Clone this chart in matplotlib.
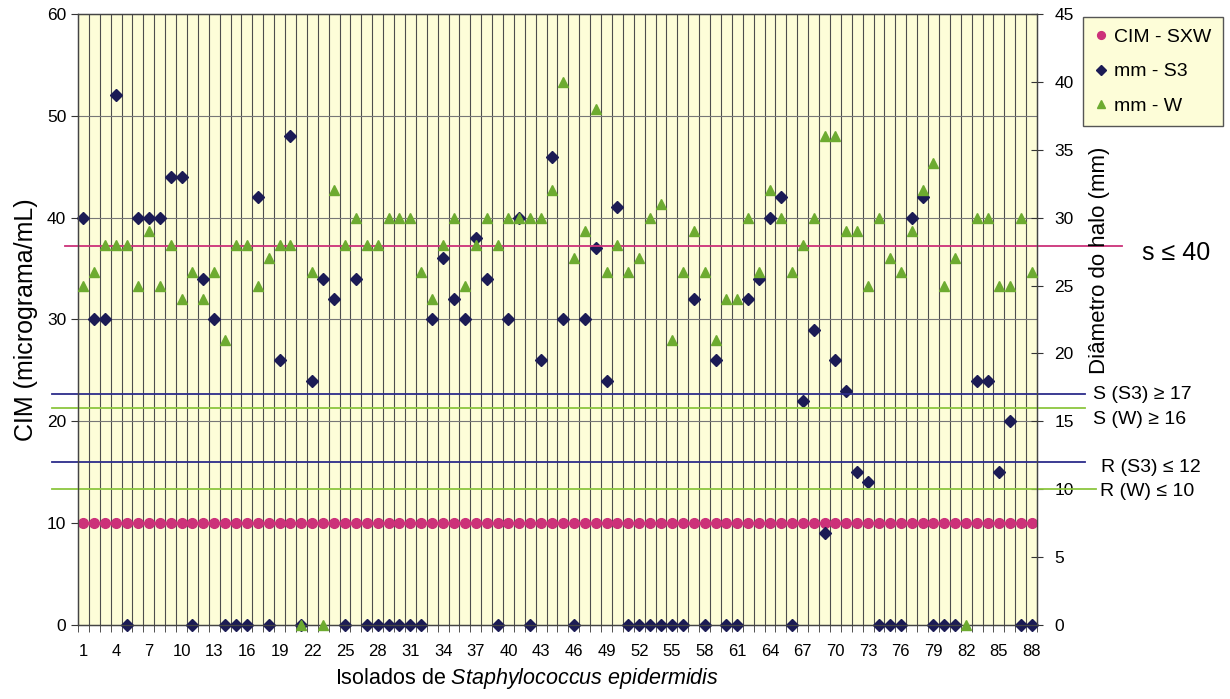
import numpy as np
import matplotlib
matplotlib.use("Agg")
import matplotlib.pyplot as plt

plt.rcParams['font.family'] = ['Liberation Sans', 'DejaVu Sans']
plt.rcParams['mathtext.fontset'] = 'custom'
plt.rcParams['mathtext.rm'] = 'Liberation Sans'
plt.rcParams['mathtext.it'] = 'Liberation Sans:italic'

# isolates 1..88
isolados = np.arange(1, 89)

# CIM - SXW (left axis, micrograma/mL)
cim_sxw = [10] * 88

# mm - S3 (as plotted against the left axis)
mm_s3 = [40, 30, 30, 52, 0, 40, 40, 40, 44, 44,
         0, 34, 30, 0, 0, 0, 42, 0, 26, 48,
         0, 24, 34, 32, 0, 34, 0, 0, 0, 0,
         0, 0, 30, 36, 32, 30, 38, 34, 0, 30,
         40, 0, 26, 46, 30, 0, 30, 37, 24, 41,
         0, 0, 0, 0, 0, 0, 32, 0, 26, 0,
         0, 32, 34, 40, 42, 0, 22, 29, 9, 26,
         23, 15, 14, 0, 0, 0, 40, 42, 0, 0,
         0, np.nan, 24, 24, 15, 20, 0, 0]

# mm - W (right axis, halo diameter in mm)
mm_w = [25, 26, 28, 28, 28, 25, 29, 25, 28, 24,
        26, 24, 26, 21, 28, 28, 25, 27, 28, 28,
        0, 26, 0, 32, 28, 30, 28, 28, 30, 30,
        30, 26, 24, 28, 30, 25, 28, 30, 28, 30,
        30, 30, 30, 32, 40, 27, 29, 38, 26, 28,
        26, 27, 30, 31, 21, 26, 29, 26, 21, 24,
        24, 30, 26, 32, 30, 26, 28, 30, 36, 36,
        29, 29, 25, 30, 27, 26, 29, 32, 34, 25,
        27, 0, 30, 30, 25, 25, 30, 26]

# breakpoints (mm) and their labels
limites = [27.9, 17, 16, 12, 10]
limites_txt = ['s \u2264 40', 'S (S3) \u2265 17', 'S (W) \u2265 16', 'R (S3) \u2264 12', 'R (W) \u2264 10']

PINK = '#cc3179'
NAVY = '#1b1b55'
GREEN = '#6dab30'
BG = '#fdfdd8'

fig = plt.figure(figsize=(12.3, 6.99), dpi=100)
ax = fig.add_axes([0.0634, 0.106, 0.7797, 0.874])
ax.set_facecolor(BG)
ax2 = ax.twinx()

ax.set_xlim(0.5, 88.5)
ax.set_ylim(0, 60)
ax2.set_ylim(0, 45)

# grid: vertical lines between isolates, horizontal every 10
for xb in np.arange(1.5, 88.5, 1):
    ax.axvline(xb, color='#4d4d4d', lw=0.8, zorder=1)
for yg in range(10, 60, 10):
    ax.axhline(yg, color='#777777', lw=0.8, zorder=1)

# breakpoint lines (extend past the plot)
ext = [(-0.014, 1.089, PINK), (-0.027, 1.050, '#2c2c8a'), (-0.027, 1.050, '#8cc63f'),
       (-0.027, 1.050, '#2c2c8a'), (-0.027, 1.061, '#8cc63f')]
for v, (x0, x1, c) in zip(limites, ext):
    ax2.axhline(v, xmin=x0, xmax=x1, color=c, lw=1.3, clip_on=False, zorder=2)

ax.plot(isolados, cim_sxw, 'o', color=PINK, ms=7, zorder=3, label='CIM - SXW', clip_on=False)
ax.plot(isolados, mm_s3, 'D', color=NAVY, ms=5.8, zorder=3, label='mm - S3', clip_on=False)
ax2.plot(isolados, mm_w, '^', color=GREEN, ms=7.5, zorder=4, label='mm - W', clip_on=False)

# ticks
ax.set_xticks(np.arange(1, 89, 3))
ax.set_xticks(np.arange(0.5, 89, 1), minor=True)
ax.tick_params(axis='x', which='major', length=0, labelsize=12, pad=14)
ax.tick_params(axis='x', which='minor', direction='out', length=5, color='#333333')
ax.set_yticks(range(0, 61, 10))
ax.tick_params(axis='y', direction='out', length=5, labelsize=12.5, color='#333333')
ax2.set_yticks(range(0, 46, 5))
ax2.tick_params(axis='y', direction='inout', length=9, labelsize=12.5, color='#333333', pad=8)
for a in (ax, ax2):
    for s in a.spines.values():
        s.set_color('#444444')
        s.set_linewidth(0.9)

ax.set_ylabel('CIM (micrograma/mL)', fontsize=18)
ax.yaxis.set_label_coords(-0.042, 0.5)
ax.set_xlabel(r'Isolados de $\mathit{Staphylococcus\ epidermidis}$', fontsize=15.5)
ax.xaxis.set_label_coords(0.468, -0.068)

fig.text(1100 / 1230, 1 - 260 / 699, 'Di\u00e2metro do halo (mm)', rotation=90,
         ha='center', va='center', fontsize=16)

# breakpoint labels
pos = [(1142, 253, 18), (1093, 395, 14), (1093, 419, 14), (1101, 467, 14), (1100, 491, 14)]
for t, (px, py, fs) in zip(limites_txt, pos):
    fig.text(px / 1230, 1 - py / 699, t, ha='left', va='center', fontsize=fs)

h1, l1 = ax.get_legend_handles_labels()
h2, l2 = ax2.get_legend_handles_labels()
leg = fig.legend(h1 + h2, l1 + l2, loc='upper left', bbox_to_anchor=(1083 / 1230, 1 - 17 / 699),
                 fontsize=14, frameon=True, fancybox=False, handlelength=0.7, handletextpad=0.3,
                 labelspacing=0.85, borderpad=0.6, borderaxespad=0, markerscale=0.8)
leg.get_frame().set_facecolor(BG)
leg.get_frame().set_edgecolor('#555555')
leg.get_frame().set_alpha(1)

fig.savefig('out.png', dpi=100)
